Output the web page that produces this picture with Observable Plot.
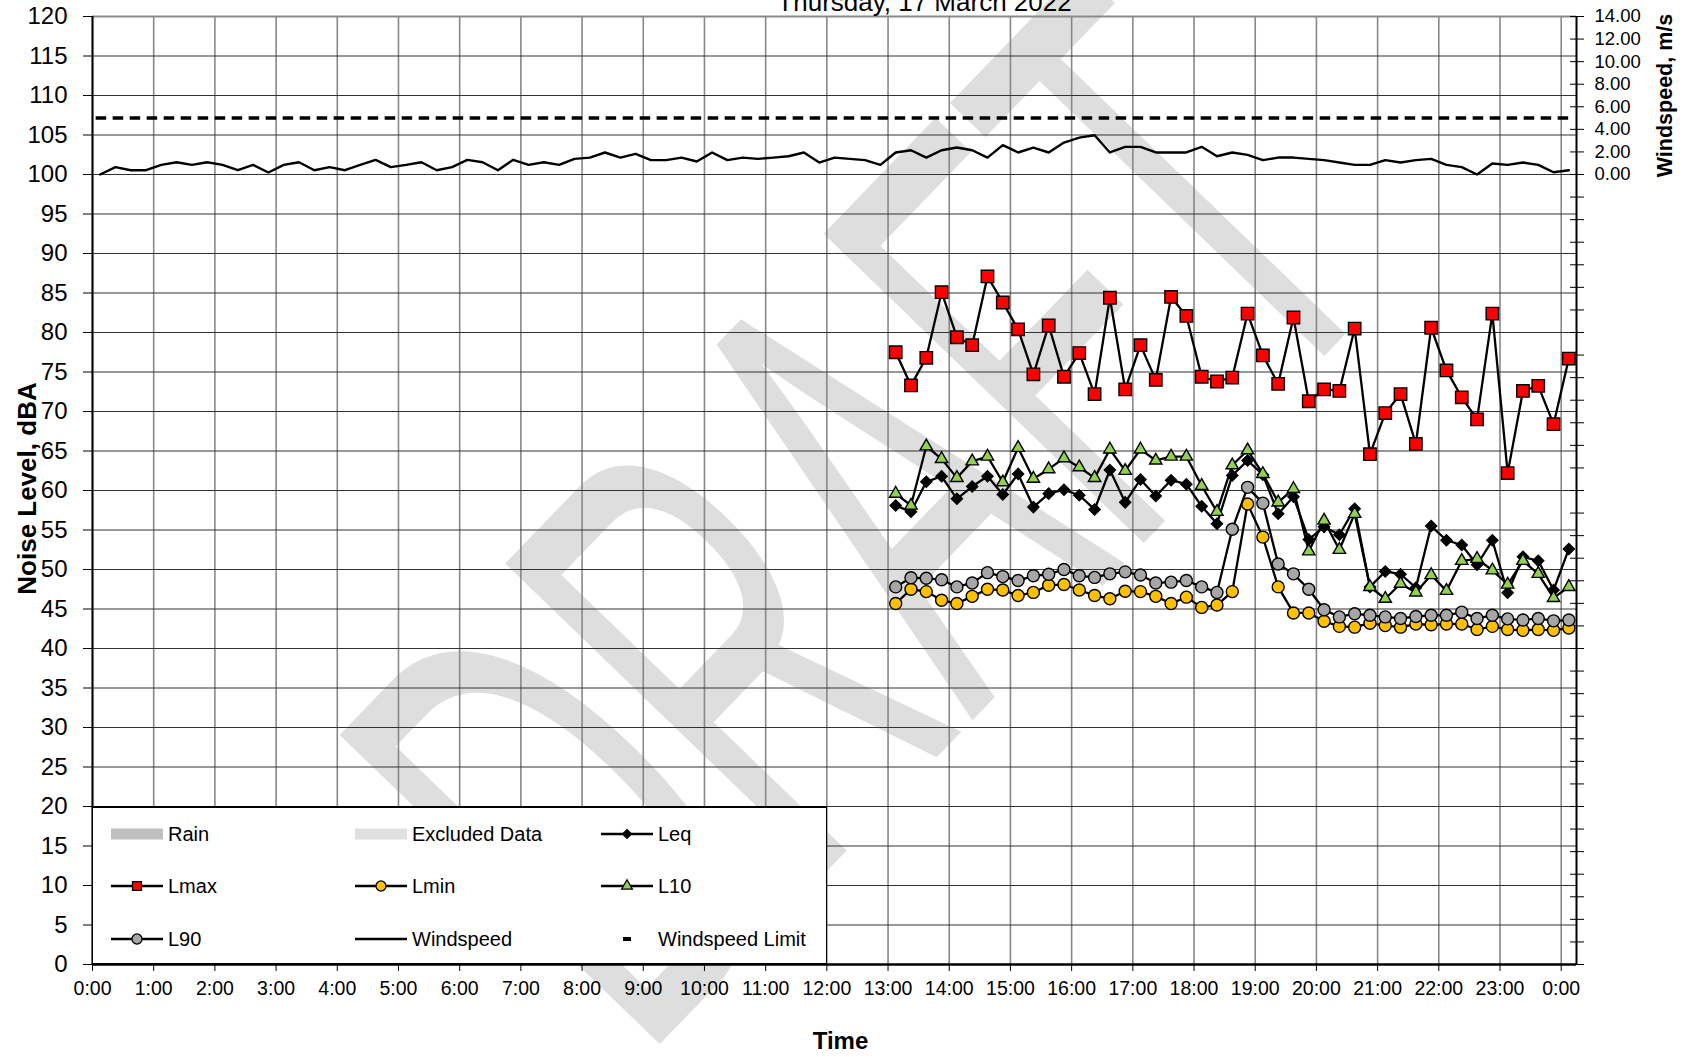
<!DOCTYPE html>
<html><head><meta charset="utf-8">
<script src="https://cdn.jsdelivr.net/npm/d3@7"></script>
<script src="https://cdn.jsdelivr.net/npm/@observablehq/plot@0.6"></script>
<style>
body{margin:0;background:#fff;font-family:"Liberation Sans",Arial,sans-serif;}
#wrap{position:relative;width:1684px;height:1057px;overflow:hidden;}
#legend{position:absolute;left:92px;top:806px;width:735px;height:158px;background:#fff;border:1px solid #000;border-top-width:2px;box-sizing:border-box;}
.item{position:absolute;height:24px;display:flex;align-items:center;font-size:20px;color:#000;white-space:nowrap;line-height:24px}
.item svg{margin-right:5px;flex:none}
</style></head><body><div id="wrap"></div>
<script>
// ---- data ----
const title = "Thursday, 17 March 2022";
const firstSampleHour = 0.125;   // 0:07:30
const sampleStepHours = 0.25;    // 15-minute samples
const noiseFirstIndex = 52;      // noise data starts 13:07:30

const windspeed = [0,0.65,0.38,0.38,0.85,1.09,0.85,1.09,0.85,0.38,0.85,0.18,0.85,1.09,0.38,0.65,0.38,0.85,1.3,0.65,0.85,1.09,0.38,0.65,1.3,1.09,0.38,1.3,0.85,1.09,0.85,
  1.38,1.5,1.95,1.5,1.83,1.27,1.27,1.5,1.15,1.95,1.27,1.5,1.38,1.5,1.62,1.95,1.06,1.5,1.38,1.27,0.85,1.95,2.15,1.5,2.15,2.39,2.15,1.5,2.6,1.95,2.39,1.95,2.83,3.27,3.48,1.95,
  2.45,2.45,1.95,1.95,1.95,2.45,1.62,1.95,1.74,1.27,1.5,1.5,1.38,1.27,1.06,0.85,0.85,1.27,1.06,1.27,1.38,0.85,0.65,0,0.97,0.85,1.06,0.85,0.2,0.38];
const windspeedLimit = 5;

const Lmax = [77.5,73.3,76.8,85.1,79.4,78.4,87.1,83.8,80.4,74.7,80.9,74.4,77.4,72.2,84.4,72.8,78.4,74.0,84.5,82.1,74.4,73.8,74.3,82.4,77.1,73.5,81.9,71.3,72.8,72.6,80.5,64.6,69.8,72.2,65.9,80.6,75.2,71.8,69.0,82.4,62.2,72.6,73.25,68.4,76.7];
const Leq = [58.1,57.3,61.1,61.8,58.95,60.5,61.8,59.5,62.1,57.9,59.6,60.1,59.4,57.6,62.6,58.5,61.4,59.3,61.3,60.8,58.0,55.8,61.9,63.8,62.0,57.05,59.2,53.8,55.4,54.4,57.7,47.8,49.75,49.4,47.7,55.5,53.7,53.1,50.6,53.7,47.05,51.6,51.1,47.4,52.6];
const L10 = [59.6,58.1,65.6,64.0,61.6,63.7,64.3,61.05,65.4,61.5,62.7,64.1,62.95,61.6,65.2,62.5,65.2,63.8,64.3,64.3,60.6,57.3,63.2,65.1,62.1,58.5,60.2,52.3,56.2,52.5,57.05,47.8,46.3,48.2,47.1,49.3,47.3,51.1,51.35,49.9,48.1,51.1,49.45,46.4,47.8];
const L90 = [47.8,48.95,48.9,48.7,47.8,48.3,49.6,49.1,48.6,49.2,49.4,50.0,49.2,49.0,49.45,49.7,49.3,48.3,48.4,48.6,47.8,47.1,55.1,60.4,58.4,50.7,49.45,47.5,44.9,44.0,44.4,44.2,44.0,43.8,44.05,44.2,44.2,44.6,43.8,44.2,43.75,43.6,43.8,43.5,43.6];
const Lmin = [45.7,47.5,47.2,46.1,45.7,46.6,47.5,47.4,46.7,47.1,48.0,48.1,47.4,46.7,46.3,47.25,47.2,46.6,45.7,46.5,45.2,45.5,47.2,58.3,54.1,47.8,44.5,44.5,43.45,42.8,42.7,43.2,42.9,42.7,43.1,43.0,43.1,43.1,42.4,42.8,42.4,42.3,42.4,42.3,42.6];

const noiseTicks = [0,5,10,15,20,25,30,35,40,45,50,55,60,65,70,75,80,85,90,95,100,105,110,115,120];
const hourTicks = [0,1,2,3,4,5,6,7,8,9,10,11,12,13,14,15,16,17,18,19,20,21,22,23,24];
const hourLabels = ["0:00","1:00","2:00","3:00","4:00","5:00","6:00","7:00","8:00","9:00","10:00","11:00","12:00","13:00","14:00","15:00","16:00","17:00","18:00","19:00","20:00","21:00","22:00","23:00","0:00"];
const windTicks = [-70,-68,-66,-64,-62,-60,-58,-56,-54,-52,-50,-48,-46,-44,-42,-40,-38,-36,-34,-32,-30,-28,-26,-24,-22,-20,-18,-16,-14,-12,-10,-8,-6,-4,-2,0,2,4,6,8,10,12,14];
const windLabelTicks = [0,2,4,6,8,10,12,14];

const xMax = 24.25;
// windspeed axis maps 0..14 m/s onto 100..120 dBA
const wsToDb = w => 100 + w / 0.7;

const series = [
  {name:"Leq",  values:Leq,  symbol:"diamond2", r:5.0, fill:"#000000"},
  {name:"Lmax", values:Lmax, symbol:"square",   r:7.0, fill:"#ff0000"},
  {name:"Lmin", values:Lmin, symbol:"circle",   r:6.0, fill:"#ffc000"},
  {name:"L10",  values:L10,  symbol:"triangle", r:4.6, fill:"#92d050"},
  {name:"L90",  values:L90,  symbol:"circle",   r:6.0, fill:"#a6a6a6"}
];

const windData = windspeed.map((w,i) => ({t: firstSampleHour + i*sampleStepHours, ws: w}));
const noiseMarks = series.flatMap(s => {
  const d = s.values.map((v,i) => ({t: firstSampleHour + (noiseFirstIndex+i)*sampleStepHours, v}));
  return [
    Plot.line(d, {x:"t", y:"v", stroke:"#000", strokeWidth:2.3}),
    Plot.dot(d, {x:"t", y:"v", symbol:s.symbol, r:s.r, fill:s.fill, stroke:"#000", strokeWidth:1.4})
  ];
});

const FONT = "Liberation Sans, Arial, sans-serif";
const chart = Plot.plot({
  width:1684, height:1057,
  marginLeft:92, marginRight:108, marginTop:16, marginBottom:93,
  style:{fontFamily:FONT, background:"white", overflow:"visible", color:"#000"},
  x:{domain:[0,xMax]},
  y:{domain:[0,120]},
  marks:[
    Plot.ruleX(hourTicks, {y1:0, y2:120, stroke:"#888", strokeWidth:1.6}),
    Plot.ruleY(noiseTicks.filter(v=>v>0 && v<120), {x1:0, x2:xMax, stroke:"#333", strokeWidth:1.1}),
    Plot.ruleY([120], {x1:0, x2:xMax, stroke:"#8a8a8a", strokeWidth:1.8}),
    Plot.axisY({ticks:noiseTicks, anchor:"left", tickSize:9, tickPadding:16, fontSize:24, tickFormat:d=>String(d), label:null}),
    Plot.axisX({ticks:hourTicks, anchor:"bottom", tickSize:7, tickPadding:10, fontSize:19.5, tickFormat:(d,i)=>hourLabels[i], label:null}),
    Plot.axisY({ticks:windTicks.map(wsToDb), anchor:"right", tickSize:14, dx:-7, tickFormat:()=>"", label:null}),
    Plot.axisY({ticks:windLabelTicks.map(wsToDb), anchor:"right", tickSize:0, tickPadding:18, fontSize:18.5, tickFormat:(d,i)=>windLabelTicks[i].toFixed(2), label:null}),
    Plot.ruleX([0], {y1:0, y2:120, stroke:"#000", strokeWidth:2}),
    Plot.ruleX([xMax], {y1:0, y2:120, stroke:"#000", strokeWidth:2}),
    Plot.ruleY([0], {x1:0, x2:xMax, stroke:"#000", strokeWidth:2.5}),
    Plot.ruleY([wsToDb(windspeedLimit)], {x1:0.06, x2:xMax-0.05, stroke:"#000", strokeWidth:3.6, strokeDasharray:"10.5,6.5"}),
    Plot.line(windData, {x:"t", y:d=>wsToDb(d.ws), stroke:"#000", strokeWidth:2.4}),
    ...noiseMarks,
    Plot.text([title], {frameAnchor:"top", textAnchor:"middle", dx:90, dy:-24, fontSize:26}),
    Plot.text(["Noise Level, dBA"], {frameAnchor:"left", textAnchor:"middle", dx:-65, dy:-2, rotate:-90, fontSize:26, fontWeight:"bold"}),
    Plot.text([{label:"Windspeed, m/s", ws:7}], {y:d=>wsToDb(d.ws), text:"label", frameAnchor:"right", textAnchor:"middle", dx:89, dy:0, rotate:-90, fontSize:21.5, fontWeight:"bold"}),
    Plot.text(["Time"], {frameAnchor:"bottom", textAnchor:"middle", dx:6, dy:84, fontSize:24, fontWeight:"bold"})
  ]
});

// DRAFT watermark behind everything
const NS = "http://www.w3.org/2000/svg";
const wm = document.createElementNS(NS, "text");
wm.textContent = "DRAFT";
wm.setAttribute("font-family", FONT);
wm.setAttribute("font-size", "647");
wm.setAttribute("fill", "#dedede");
wm.setAttribute("text-anchor", "middle");
wm.setAttribute("transform", "translate(1023,668) rotate(-46) scale(0.51,1)");
const firstG = chart.querySelector("g");
chart.insertBefore(wm, firstG);

const wrap = document.getElementById("wrap");
wrap.appendChild(chart);

// ---- legend ----
const legendItems = [
  {label:"Rain", kind:"rect", color:"#bfbfbf"},
  {label:"Excluded Data", kind:"rect", color:"#e0e0e0"},
  {label:"Leq", kind:"line", symbol:d3.symbolDiamond2, size:50, fill:"#000"},
  {label:"Lmax", kind:"line", symbol:d3.symbolSquare, size:80, fill:"#ff0000"},
  {label:"Lmin", kind:"line", symbol:d3.symbolCircle, size:80, fill:"#ffc000"},
  {label:"L10", kind:"line", symbol:d3.symbolTriangle, size:50, fill:"#92d050"},
  {label:"L90", kind:"line", symbol:d3.symbolCircle, size:80, fill:"#a6a6a6"},
  {label:"Windspeed", kind:"line"},
  {label:"Windspeed Limit", kind:"dash"}
];
const colLeft = [18, 262, 508];
const rowCenter = [26, 78, 131];
const legend = document.createElement("div");
legend.id = "legend";
legendItems.forEach((it, k) => {
  const c = k % 3, r = Math.floor(k / 3);
  const div = document.createElement("div");
  div.className = "item";
  div.style.left = colLeft[c] + "px";
  div.style.top = (rowCenter[r] - 12) + "px";
  const s = d3.create("svg").attr("width", 52).attr("height", 20);
  if (it.kind === "rect") {
    s.append("rect").attr("x",0).attr("y",4.5).attr("width",52).attr("height",11).attr("fill",it.color);
  } else if (it.kind === "line") {
    s.append("line").attr("x1",0).attr("x2",52).attr("y1",10).attr("y2",10).attr("stroke","#000").attr("stroke-width",2.3);
    if (it.symbol) s.append("path").attr("d", d3.symbol(it.symbol, it.size)()).attr("transform","translate(26,10)").attr("fill",it.fill).attr("stroke","#000").attr("stroke-width",1.3);
  } else {
    s.append("line").attr("x1",22).attr("x2",30).attr("y1",10).attr("y2",10).attr("stroke","#000").attr("stroke-width",4);
  }
  div.appendChild(s.node());
  const span = document.createElement("span");
  span.textContent = it.label;
  div.appendChild(span);
  legend.appendChild(div);
});
wrap.appendChild(legend);
</script></body></html>
